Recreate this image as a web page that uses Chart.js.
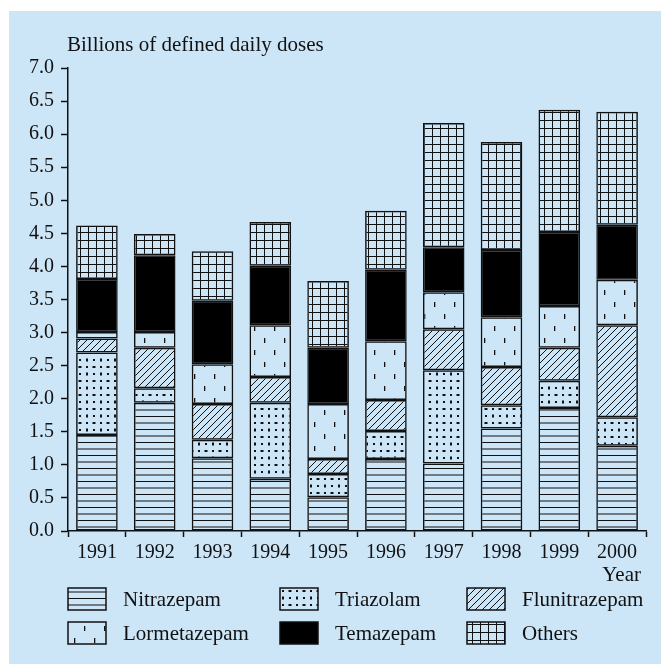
<!DOCTYPE html>
<html>
<head>
<meta charset="utf-8">
<script src="https://cdn.jsdelivr.net/npm/chart.js@4.4.1/dist/chart.umd.min.js"></script>
<style>
  html, body { margin: 0; padding: 0; background: #fff; }
  #wrap { position: relative; width: 661px; height: 664px; }
</style>
</head>
<body>
<div id="wrap"><canvas id="chart" width="661" height="664"></canvas></div>
<script>
const years = ['1991', '1992', '1993', '1994', '1995', '1996', '1997', '1998', '1999', '2000'];
const seriesNames = ['Nitrazepam', 'Triazolam', 'Flunitrazepam', 'Lormetazepam', 'Temazepam', 'Others'];
// segment heights, billions of DDD
const nitrazepam    = [1.45, 1.94, 1.10, 0.79, 0.51, 1.09, 1.02, 1.55, 1.86, 1.29];
const triazolam     = [1.25, 0.22, 0.28, 1.15, 0.35, 0.42, 1.41, 0.35, 0.41, 0.43];
const flunitrazepam = [0.21, 0.61, 0.54, 0.39, 0.23, 0.47, 0.62, 0.58, 0.50, 1.39];
const lormetazepam  = [0.10, 0.24, 0.60, 0.78, 0.83, 0.89, 0.56, 0.75, 0.63, 0.69];
const temazepam     = [0.80, 1.16, 0.96, 0.90, 0.85, 1.08, 0.68, 1.02, 1.12, 0.83];
const others        = [0.81, 0.32, 0.75, 0.66, 1.01, 0.89, 1.88, 1.63, 1.85, 1.71];
const yTicks = [0, 0.5, 1, 1.5, 2, 2.5, 3, 3.5, 4, 4.5, 5, 5.5, 6, 6.5, 7];

const PANEL = '#cce6f8';
const INK = '#111';
const FONT = 'Liberation Serif, Times New Roman, serif';

function makePattern(w, h, draw) {
    const c = document.createElement('canvas');
    c.width = w; c.height = h;
    const g = c.getContext('2d');
    g.strokeStyle = INK; g.fillStyle = INK; g.lineWidth = 1;
    draw(g);
    return document.getElementById('chart').getContext('2d').createPattern(c, 'repeat');
}

const patHoriz = makePattern(8, 13, g => {
    g.beginPath();
    g.moveTo(0, 0.5); g.lineTo(8, 0.5);
    g.moveTo(0, 7); g.lineTo(8, 7);
    g.stroke();
});
const patDots = makePattern(14, 14, g => {
    g.fillRect(2, 2, 2, 2);
    g.fillRect(9, 9, 2, 2);
    g.fillRect(9, 2, 2, 2); g.fillRect(8, 2.5, 4, 1);
    g.fillRect(2, 9, 2, 2); g.fillRect(2.5, 8, 1, 4);
});
const patDiag = makePattern(7, 7, g => {
    g.beginPath();
    g.moveTo(-1, 8); g.lineTo(8, -1);
    g.moveTo(-1, 1); g.lineTo(1, -1);
    g.moveTo(6, 8); g.lineTo(8, 6);
    g.stroke();
});
const patDash = makePattern(20, 24, g => {
    g.fillRect(4, 2, 1.3, 5);
    g.fillRect(14, 14, 1.3, 5);
});
const patGrid = makePattern(8, 8, g => {
    g.beginPath();
    g.moveTo(0.5, 0); g.lineTo(0.5, 8);
    g.moveTo(0, 0.5); g.lineTo(8, 0.5);
    g.stroke();
});

const fills = [patHoriz, patDots, patDiag, patDash, '#000', patGrid];
const values = [nitrazepam, triazolam, flunitrazepam, lormetazepam, temazepam, others];

const decorPlugin = {
    id: 'decor',
    beforeDraw(chart) {
        const ctx = chart.ctx;
        ctx.save();
        ctx.fillStyle = PANEL;
        ctx.fillRect(9, 11, 652, 653);
        ctx.restore();
    },
    afterDraw(chart) {
        const ctx = chart.ctx;
        ctx.save();
        ctx.fillStyle = INK;
        ctx.font = '21px ' + FONT;
        ctx.textBaseline = 'middle';
        ctx.textAlign = 'left';
        ctx.fillText('Billions of defined daily doses', 67, 45);
        ctx.textAlign = 'right';
        ctx.fillText('Year', 641, 575);

        // legend, 3 columns x 2 rows
        const colX = [68, 280, 467];
        const rowY = [588, 622];
        ctx.textAlign = 'left';
        seriesNames.forEach((name, i) => {
            const x = colX[i % 3], y = rowY[Math.floor(i / 3)];
            ctx.fillStyle = fills[i];
            ctx.fillRect(x, y, 38, 22);
            ctx.strokeStyle = INK;
            ctx.lineWidth = 1.5;
            ctx.strokeRect(x, y, 38, 22);
            ctx.fillStyle = INK;
            ctx.fillText(name, x + 55, y + 12);
        });
        ctx.restore();
    }
};

new Chart(document.getElementById('chart'), {
    type: 'bar',
    data: {
        labels: years,
        datasets: seriesNames.map((name, i) => ({
            label: name,
            data: values[i],
            backgroundColor: fills[i],
            borderColor: INK,
            borderWidth: 1.5,
            borderSkipped: false,
            barPercentage: 0.72,
            categoryPercentage: 1.0,
        })),
    },
    options: {
        responsive: false,
        animation: false,
        layout: {padding: {top: 68, right: 15, left: 0, bottom: 0}},
        plugins: {legend: {display: false}, title: {display: false}, tooltip: {enabled: false}},
        scales: {
            x: {
                stacked: true,
                grid: {offset: true, drawOnChartArea: false, tickLength: 6, color: INK, tickWidth: 1.5},
                border: {color: INK, width: 1.5},
                ticks: {color: INK, font: {family: FONT, size: 20}, padding: 4, maxRotation: 0},
                afterFit: s => { s.height = 133; },
            },
            y: {
                stacked: true,
                min: 0,
                max: 7,
                afterBuildTicks: s => { s.ticks = yTicks.map(v => ({value: v})); },
                grid: {drawOnChartArea: false, tickLength: 7, color: INK, tickWidth: 1.5},
                border: {color: INK, width: 1.5},
                ticks: {color: INK, font: {family: FONT, size: 20}, padding: 7, callback: v => Number(v).toFixed(1)},
                afterFit: s => { s.width = 68; },
            },
        },
    },
    plugins: [decorPlugin],
});
</script>
</body>
</html>
